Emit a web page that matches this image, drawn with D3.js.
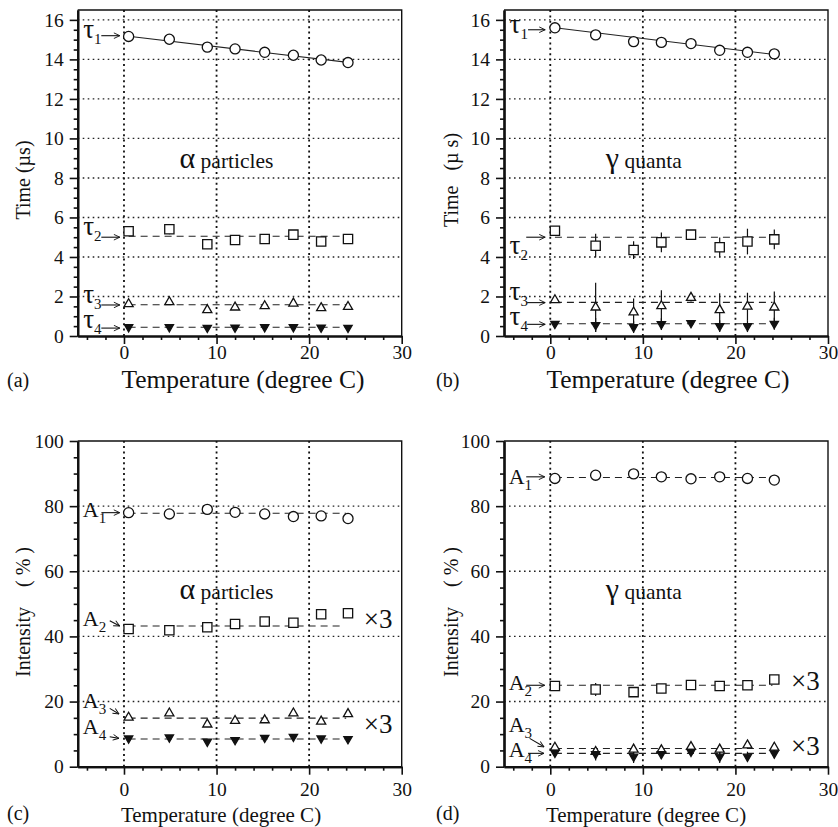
<!DOCTYPE html>
<html>
<head>
<meta charset="utf-8">
<script src="https://cdn.jsdelivr.net/npm/d3@7"></script>
<style>
  body { margin: 0; background: #fff; }
  svg { display: block; font-family: "Liberation Serif", "Times New Roman", serif; }
</style>
</head>
<body>
<svg id="fig" width="838" height="827"></svg>
<script>
// Measurement temperatures (degree C)
const temps = [0.5, 4.9, 9.0, 12.0, 15.2, 18.3, 21.3, 24.2];

// (a) decay times for alpha particles (µs)
const tau1Alpha = [15.16, 15.02, 14.62, 14.53, 14.36, 14.21, 13.97, 13.84];
const tau1AlphaFit = [15.17, 13.85];
const tau2Alpha = [5.30, 5.40, 4.64, 4.86, 4.91, 5.13, 4.78, 4.91];
const tau2AlphaErr = [0.10, 0.25, 0.10, 0.12, 0.15, 0.22, 0.10, 0.15];
const tau3Alpha = [1.62, 1.72, 1.32, 1.45, 1.52, 1.65, 1.42, 1.48];
const tau4Alpha = [0.45, 0.45, 0.42, 0.43, 0.45, 0.45, 0.43, 0.42];
const tauAlphaMeans = [5.05, 1.58, 0.44];

// (b) decay times for gamma quanta (µs)
const tau1Gamma = [15.60, 15.24, 14.90, 14.86, 14.80, 14.46, 14.36, 14.28];
const tau1GammaFit = [15.60, 14.25];
const tau2Gamma = [5.33, 4.57, 4.35, 4.74, 5.13, 4.49, 4.78, 4.89];
const tau2GammaErr = [0.10, 0.60, 0.45, 0.50, 0.15, 0.50, 0.65, 0.50];
const tau3Gamma = [1.82, 1.45, 1.20, 1.52, 1.94, 1.32, 1.49, 1.45];
const tau3GammaErr = [0.10, 1.25, 0.70, 0.80, 0.20, 0.85, 0.70, 0.80];
const tau4Gamma = [0.62, 0.56, 0.45, 0.60, 0.66, 0.50, 0.50, 0.62];
const tau4GammaErr = [0.05, 0.35, 0.30, 0.30, 0.05, 0.30, 0.30, 0.30];
const tauGammaMeans = [5.00, 1.70, 0.62];

// (c) component intensities for alpha particles (%), A2..A4 scaled x3
const a1Alpha = [78.0, 77.6, 79.0, 78.1, 77.6, 76.8, 77.0, 76.2];
const a2Alpha = [42.3, 41.9, 42.8, 43.8, 44.6, 44.2, 46.8, 47.1];
const a2AlphaErr = [0.8, 1.2, 0.8, 0.8, 0.8, 0.8, 0.8, 0.8];
const a3Alpha = [15.1, 16.4, 13.0, 14.1, 14.3, 16.4, 13.9, 16.2];
const a4Alpha = [8.7, 9.0, 7.7, 8.2, 8.9, 9.2, 8.7, 8.5];
const aAlphaMeans = [77.8, 43.2, 14.9, 8.5];

// (d) component intensities for gamma quanta (%), A2..A4 scaled x3
const a1Gamma = [88.5, 89.5, 89.9, 89.0, 88.4, 89.0, 88.5, 88.0];
const a2Gamma = [24.8, 23.7, 22.9, 24.0, 25.1, 24.8, 25.0, 26.8];
const a2GammaErr = [0.5, 2.0, 0.5, 1.0, 0.5, 1.0, 1.0, 0.5];
const a3Gamma = [5.9, 4.6, 5.3, 5.1, 6.1, 5.3, 6.6, 5.9];
const a3GammaErr = [1.0, 1.5, 1.5, 1.5, 1.0, 1.5, 1.0, 1.5];
const a4Gamma = [4.3, 3.9, 3.1, 3.9, 4.6, 3.1, 3.1, 4.1];
const a4GammaErr = [1.0, 2.0, 2.0, 1.5, 1.0, 2.0, 1.5, 1.5];
const aGammaMeans = [88.8, 25.0, 5.6, 4.1];

// Axis ticks
const xDomain = [-5, 30];
const xTicks = [0, 10, 20, 30];
const xMinor = [-4, -2, 2, 4, 6, 8, 12, 14, 16, 18, 22, 24, 26, 28];
const xGrid = [0, 10, 20];
const timeTicks = [0, 2, 4, 6, 8, 10, 12, 14, 16];
const timeMinor = d3.range(0, 16.5, 0.5).filter(v => v % 2 !== 0);
const timeGrid = [2, 4, 6, 8, 10, 12, 14, 16];
const intTicks = [0, 20, 40, 60, 80, 100];
const intMinor = d3.range(5, 100, 5).filter(v => v % 20 !== 0);
const intGrid = [20, 40, 60, 80];

const svg = d3.select("#fig");
const FONT = '"Liberation Serif", "Times New Roman", serif';

// open arrowhead used by the component tags
svg.append("defs").append("marker")
  .attr("id", "arrowhead")
  .attr("viewBox", "0 0 10 10")
  .attr("refX", 9.5).attr("refY", 5)
  .attr("markerWidth", 7).attr("markerHeight", 7)
  .attr("markerUnits", "userSpaceOnUse")
  .attr("orient", "auto")
  .append("path")
  .attr("d", "M1,1 L9.5,5 L1,9")
  .attr("fill", "none").attr("stroke", "#111").attr("stroke-width", 1.3);

const symbolPaths = {
  circle: d3.symbol(d3.symbolCircle, 80)(),
  square: d3.symbol(d3.symbolSquare, 86)(),
  triUp: d3.symbol(d3.symbolTriangle, 36)(),
  triDown: d3.symbol(d3.symbolTriangle, 30)()
};

function drawPanel(p) {
  const x = d3.scaleLinear().domain(xDomain).range([p.left, p.right]);
  const y = d3.scaleLinear().domain(p.yDomain).range([p.bottom, p.top]);
  const g = svg.append("g");

  // dotted grid
  g.append("g").selectAll("line").data(p.yGrid).join("line")
    .attr("x1", p.left).attr("x2", p.right)
    .attr("y1", d => y(d)).attr("y2", d => y(d))
    .attr("stroke", "#222").attr("stroke-width", 1.4)
    .attr("stroke-dasharray", "1.6,3.4");
  g.append("g").selectAll("line").data(xGrid).join("line")
    .attr("x1", d => x(d)).attr("x2", d => x(d))
    .attr("y1", p.bottom).attr("y2", p.top)
    .attr("stroke", "#111").attr("stroke-width", 1.8)
    .attr("stroke-dasharray", "2,3.4");

  // top and right border
  g.append("path")
    .attr("d", `M${p.left},${p.top}H${p.right}V${p.bottom}`)
    .attr("fill", "none").attr("stroke", "#111").attr("stroke-width", 1.4);

  // axes
  const styleAxis = s => {
    s.attr("font-family", FONT).attr("font-size", 19.5);
    s.select(".domain").attr("stroke-width", 2.2).attr("stroke", "#111");
    s.selectAll(".tick line").attr("stroke-width", 1.6).attr("stroke", "#111");
    s.selectAll(".tick text").attr("fill", "#111");
  };
  g.append("g").attr("transform", `translate(0,${p.bottom})`)
    .call(d3.axisBottom(x).tickValues(xMinor).tickSize(4).tickSizeOuter(0).tickFormat(""))
    .call(styleAxis);
  g.append("g").attr("transform", `translate(0,${p.bottom})`)
    .call(d3.axisBottom(x).tickValues(xTicks).tickSize(8).tickSizeOuter(0)
      .tickPadding(p.xPad).tickFormat(d3.format("d")))
    .call(styleAxis);
  g.append("g").attr("transform", `translate(${p.left},0)`)
    .call(d3.axisLeft(y).tickValues(p.yMinor).tickSize(4).tickSizeOuter(0).tickFormat(""))
    .call(styleAxis);
  g.append("g").attr("transform", `translate(${p.left},0)`)
    .call(d3.axisLeft(y).tickValues(p.yTicks).tickSize(8).tickSizeOuter(0)
      .tickPadding(6).tickFormat(d3.format("d")))
    .call(styleAxis);

  // mean levels (dashed) and linear fits (solid)
  p.series.forEach(s => {
    if (s.mean !== undefined) {
      g.append("line")
        .attr("x1", x(temps[0])).attr("x2", x(s.lineEnd || 24.0))
        .attr("y1", y(s.mean)).attr("y2", y(s.mean))
        .attr("stroke", "#222").attr("stroke-width", 1.1)
        .attr("stroke-dasharray", "7,5");
    }
    if (s.fit) {
      g.append("line")
        .attr("x1", x(temps[0])).attr("x2", x(temps[temps.length - 1]))
        .attr("y1", y(s.fit[0])).attr("y2", y(s.fit[1]))
        .attr("stroke", "#222").attr("stroke-width", 1.1);
    }
  });

  // error bars
  p.series.forEach(s => {
    if (!s.err) return;
    g.append("g").selectAll("line").data(s.values).join("line")
      .attr("x1", (d, i) => x(temps[i])).attr("x2", (d, i) => x(temps[i]))
      .attr("y1", (d, i) => y(d - s.err[i])).attr("y2", (d, i) => y(d + s.err[i]))
      .attr("stroke", "#111").attr("stroke-width", 1.2);
  });

  // markers (open ones are white-filled)
  p.series.forEach(s => {
    g.append("g").selectAll("path").data(s.values).join("path")
      .attr("d", symbolPaths[s.symbol])
      .attr("transform", (d, i) => `translate(${x(temps[i])},${y(d)})` + (s.symbol === "triDown" ? " rotate(180)" : ""))
      .attr("fill", s.symbol === "triDown" ? "#111" : "#fff")
      .attr("stroke", "#111").attr("stroke-width", 1.3);
  });

  // component tags with arrows
  p.tags.forEach(t => {
    const txt = g.append("text")
      .attr("x", x(t.tx)).attr("y", y(t.ty))
      .attr("font-family", FONT).attr("font-size", t.size || 27).attr("fill", "#111");
    txt.append("tspan").text(t.sym);
    txt.append("tspan").attr("dy", 6).attr("font-size", 15).text(t.sub);
    g.append("line")
      .attr("x1", x(t.from[0])).attr("y1", y(t.from[1]))
      .attr("x2", x(t.to[0])).attr("y2", y(t.to[1]))
      .attr("stroke", "#111").attr("stroke-width", 1.1)
      .attr("marker-end", "url(#arrowhead)");
  });

  // scale factor notes
  (p.notes || []).forEach(n => {
    g.append("text").attr("x", x(n.x)).attr("y", y(n.y))
      .attr("font-family", FONT).attr("font-size", 27).attr("fill", "#111")
      .text("×3");
  });

  // radiation type caption
  const cap = g.append("text")
    .attr("x", x(p.caption.x)).attr("y", y(p.caption.y))
    .attr("font-family", FONT).attr("fill", "#111")
    .style("white-space", "pre");
  cap.append("tspan").attr("font-size", 30).text(p.caption.sym);
  cap.append("tspan").attr("font-size", 21.5).text(p.caption.text);

  // axis titles
  g.append("text")
    .attr("x", p.xTitle.x).attr("y", p.xTitle.y)
    .attr("text-anchor", "middle")
    .attr("font-family", FONT).attr("font-size", p.xTitle.size).attr("fill", "#111")
    .text("Temperature (degree C)");
  g.append("text")
    .attr("transform", `translate(${p.yTitle.x},${p.yTitle.y}) rotate(-90)`)
    .attr("text-anchor", "middle")
    .attr("font-family", FONT).attr("font-size", 20).attr("fill", "#111")
    .style("white-space", "pre")
    .text(p.yTitle.text);

  // panel letter
  g.append("text")
    .attr("x", p.letter.x).attr("y", p.letter.y)
    .attr("font-family", FONT).attr("font-size", 20).attr("fill", "#111")
    .text(p.letter.text);
}

drawPanel({
  left: 77.7, right: 401.7, top: 10, bottom: 336,
  yDomain: [0, 16.5], yTicks: timeTicks, yMinor: timeMinor, yGrid: timeGrid, xPad: 1,
  series: [
    { values: tau1Alpha, symbol: "circle", fit: tau1AlphaFit },
    { values: tau2Alpha, err: tau2AlphaErr, symbol: "square", mean: tauAlphaMeans[0] },
    { values: tau3Alpha, symbol: "triUp", mean: tauAlphaMeans[1] },
    { values: tau4Alpha, symbol: "triDown", mean: tauAlphaMeans[2] }
  ],
  tags: [
    { sym: "τ", sub: "1", tx: -4.4, ty: 15.10, from: [-2.45, 15.2], to: [-0.45, 15.2] },
    { sym: "τ", sub: "2", tx: -4.4, ty: 5.11, from: [-2.45, 5.0], to: [-0.45, 5.0] },
    { sym: "τ", sub: "3", tx: -4.4, ty: 1.66, from: [-2.45, 1.57], to: [-0.45, 1.57] },
    { sym: "τ", sub: "4", tx: -4.4, ty: 0.42, from: [-2.45, 0.40], to: [-0.45, 0.40] }
  ],
  caption: { sym: "α", text: " particles", x: 6.0, y: 8.5 },
  xTitle: { x: 243, y: 388, size: 25.5 },
  yTitle: { x: 30, y: 180, text: "Time (µs)" },
  letter: { x: 7, y: 387, text: "(a)" }
});

drawPanel({
  left: 504, right: 828, top: 10, bottom: 336,
  yDomain: [0, 16.5], yTicks: timeTicks, yMinor: timeMinor, yGrid: timeGrid, xPad: 1,
  series: [
    { values: tau1Gamma, symbol: "circle", fit: tau1GammaFit },
    { values: tau2Gamma, err: tau2GammaErr, symbol: "square", mean: tauGammaMeans[0] },
    { values: tau3Gamma, err: tau3GammaErr, symbol: "triUp", mean: tauGammaMeans[1] },
    { values: tau4Gamma, err: tau4GammaErr, symbol: "triDown", mean: tauGammaMeans[2] }
  ],
  tags: [
    { sym: "τ", sub: "1", tx: -4.4, ty: 15.32, from: [-2.4, 15.5], to: [-0.55, 15.5] },
    { sym: "τ", sub: "2", tx: -4.4, ty: 4.15, from: [-2.6, 5.0], to: [-0.55, 5.0] },
    { sym: "τ", sub: "3", tx: -4.4, ty: 1.82, from: [-2.5, 1.69], to: [-0.55, 1.69] },
    { sym: "τ", sub: "4", tx: -4.4, ty: 0.54, from: [-2.5, 0.59], to: [-0.55, 0.59] }
  ],
  caption: { sym: "γ", text: " quanta", x: 6.0, y: 8.5 },
  xTitle: { x: 668, y: 388, size: 25.5 },
  yTitle: { x: 458, y: 180, text: "Time   (µ s)" },
  letter: { x: 436, y: 387, text: "(b)" }
});

drawPanel({
  left: 77.7, right: 401.7, top: 441, bottom: 766.7,
  yDomain: [0, 100], yTicks: intTicks, yMinor: intMinor, yGrid: intGrid, xPad: 7,
  series: [
    { values: a1Alpha, symbol: "circle", mean: aAlphaMeans[0] },
    { values: a2Alpha, err: a2AlphaErr, symbol: "square", mean: aAlphaMeans[1], lineEnd: 23.6 },
    { values: a3Alpha, symbol: "triUp", mean: aAlphaMeans[2] },
    { values: a4Alpha, symbol: "triDown", mean: aAlphaMeans[3] }
  ],
  tags: [
    { sym: "A", sub: "1", tx: -4.45, ty: 76.7, from: [-2.44, 78.0], to: [-0.46, 78.0], size: 22 },
    { sym: "A", sub: "2", tx: -4.45, ty: 43.2, from: [-1.54, 44.8], to: [-0.46, 43.2], size: 22 },
    { sym: "A", sub: "3", tx: -4.45, ty: 18.1, from: [-1.54, 17.9], to: [-0.54, 16.2], size: 22 },
    { sym: "A", sub: "4", tx: -4.45, ty: 10.0, from: [-1.54, 9.2], to: [-0.54, 8.7], size: 22 }
  ],
  notes: [{ x: 25.9, y: 42.5 }, { x: 25.9, y: 10.2 }],
  caption: { sym: "α", text: " particles", x: 6.0, y: 51.5 },
  xTitle: { x: 221, y: 822, size: 21 },
  yTitle: { x: 30, y: 612, text: "Intensity    ( % )" },
  letter: { x: 7, y: 820, text: "(c)" }
});

drawPanel({
  left: 504, right: 828, top: 441, bottom: 766.7,
  yDomain: [0, 100], yTicks: intTicks, yMinor: intMinor, yGrid: intGrid, xPad: 7,
  series: [
    { values: a1Gamma, symbol: "circle", mean: aGammaMeans[0] },
    { values: a2Gamma, err: a2GammaErr, symbol: "square", mean: aGammaMeans[1] },
    { values: a3Gamma, err: a3GammaErr, symbol: "triUp", mean: aGammaMeans[2] },
    { values: a4Gamma, err: a4GammaErr, symbol: "triDown", mean: aGammaMeans[3] }
  ],
  tags: [
    { sym: "A", sub: "1", tx: -4.5, ty: 86.8, from: [-2.6, 89.0], to: [-0.6, 89.0], size: 22 },
    { sym: "A", sub: "2", tx: -4.5, ty: 23.5, from: [-2.6, 25.0], to: [-0.6, 25.0], size: 22 },
    { sym: "A", sub: "3", tx: -4.5, ty: 10.8, from: [-2.23, 8.7], to: [-0.68, 6.1], size: 22 },
    { sym: "A", sub: "4", tx: -4.5, ty: 2.9, from: [-2.4, 4.1], to: [-0.68, 4.1], size: 22 }
  ],
  notes: [{ x: 26.0, y: 23.5 }, { x: 26.0, y: 3.5 }],
  caption: { sym: "γ", text: " quanta", x: 6.0, y: 51.5 },
  xTitle: { x: 646, y: 822, size: 21 },
  yTitle: { x: 458, y: 612, text: "Intensity    ( % )" },
  letter: { x: 436, y: 820, text: "(d)" }
});
</script>
</body>
</html>
